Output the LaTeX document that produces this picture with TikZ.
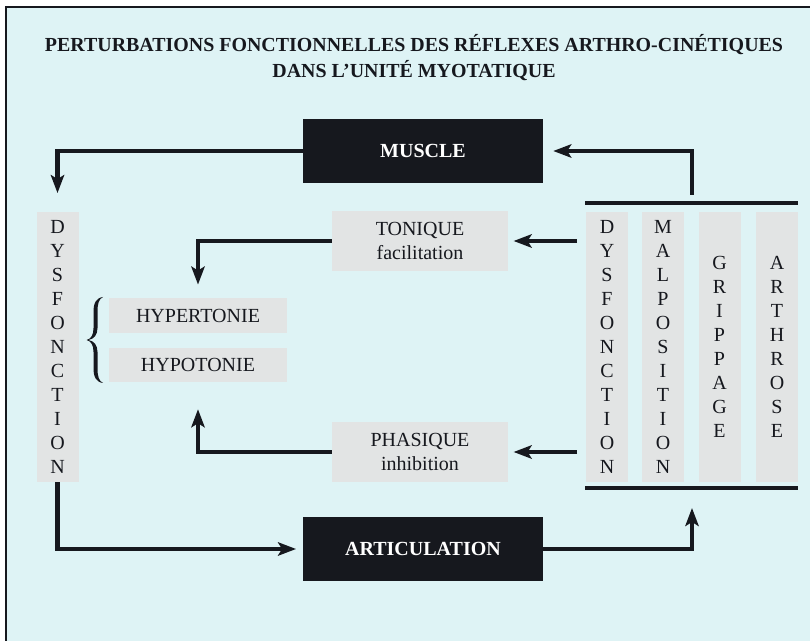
\documentclass[tikz,border=0pt]{standalone}
\usepackage{fontspec}
\setmainfont{Liberation Serif}
\usetikzlibrary{arrows.meta,calc}
\definecolor{bgc}{RGB}{222,243,245}
\definecolor{boxg}{RGB}{226,228,228}
\definecolor{ink}{RGB}{22,24,30}
\begin{document}
\begin{tikzpicture}[x=0.75pt,y=-0.75pt,
  titletext/.style={font=\bfseries\fontsize{14.95}{17}\selectfont, text=ink, anchor=base, inner sep=0},
  blackbox/.style={fill=ink, text=white, font=\bfseries\fontsize{15}{17}\selectfont,
    minimum width=180pt, minimum height=48pt, inner sep=0},
  greybox/.style={fill=boxg, text=ink, font=\fontsize{15}{18}\selectfont, align=center,
    minimum width=132pt, minimum height=45pt, inner sep=0},
  tonebox/.style={fill=boxg, text=ink, font=\fontsize{15}{18}\selectfont,
    minimum width=133.5pt, minimum height=26pt, inner sep=0},
  vcol/.style={fill=boxg, text=ink, font=\fontsize{15}{18}\selectfont, align=center,
    minimum width=31.5pt, minimum height=202.5pt, inner sep=0},
  conn/.style={draw=ink, line width=3.2pt, -{Stealth[length=13.5pt,width=10pt,inset=3pt]}},
  blockline/.style={draw=ink, line width=2.6pt}]
\useasboundingbox (0,0) rectangle (810,641);
\fill[white] (0,0) rectangle (810,641);
\fill[bgc] (6,7) rectangle (810,641);
\draw[line width=1.5pt, ink] (6,641) -- (6,7) -- (810,7);

% title
\node[titletext] (title1) at (414,52) {PERTURBATIONS FONCTIONNELLES DES RÉFLEXES ARTHRO-CINÉTIQUES};
\node[titletext] (title2) at (414,78) {DANS L’UNITÉ MYOTATIQUE};

% main boxes
\node[blackbox] (muscle) at (423,151) {MUSCLE};
\node[blackbox] (artic) at (423,549) {ARTICULATION};

\node[greybox] (ton) at (420,241) {TONIQUE\\facilitation};
\node[greybox] (pha) at (420,452) {PHASIQUE\\inhibition};

\node[tonebox] (hyper) at (198,315.5) {HYPERTONIE};
\node[tonebox] (hypo) at (198,365) {HYPOTONIE};

% columns
\node[vcol] (dysL) at (57.5,347) {D\\Y\\S\\F\\O\\N\\C\\T\\I\\O\\N};
\node[vcol] (dysR) at (607,347) {D\\Y\\S\\F\\O\\N\\C\\T\\I\\O\\N};
\node[vcol] (mal) at (663,347) {M\\A\\L\\P\\O\\S\\I\\T\\I\\O\\N};
\node[vcol] (grip) at (719.5,347) {G\\R\\I\\P\\P\\A\\G\\E};
\node[vcol] (arth) at (777,347) {A\\R\\T\\H\\R\\O\\S\\E};

% block lines
\coordinate (blkTL) at (585,203);
\coordinate (blkTR) at (798,203);
\coordinate (blkBL) at (585,488);
\coordinate (blkBR) at (798,488);
\draw[blockline] (blkTL) -- (blkTR);
\draw[blockline] (blkBL) -- (blkBR);
\coordinate (blkTop) at (692,203);
\coordinate (blkBot) at (692,488);
\coordinate (tonSrc) at (577,241);
\coordinate (phaSrc) at (577,452);

% brace (filled typographic shape)
\fill[ink] (103,297) .. controls (96,298) and (93.5,303) .. (93.5,312)
  -- (93.5,328) .. controls (93.5,335) and (91,339) .. (86.5,340)
  .. controls (91,341) and (93.5,345) .. (93.5,352)
  -- (93.5,368) .. controls (93.5,377) and (96,382) .. (103,383)
  .. controls (99,381) and (97.5,377) .. (97.5,368)
  -- (97.5,352) .. controls (97.5,345) and (94,341) .. (88.5,340)
  .. controls (94,339) and (97.5,335) .. (97.5,328)
  -- (97.5,312) .. controls (97.5,303) and (99,299) .. (103,297) -- cycle;

% connectors
\draw[conn, shorten >=14pt] (muscle.west) -| (dysL.north);
\draw[conn, shorten <=6pt, shorten >=7.5pt] (blkTop) |- (muscle.east);
\draw[conn, shorten >=5pt] (dysL.south) |- (artic.west);
\draw[conn, shorten >=15pt] (artic.east) -| (blkBot);
\draw[conn, shorten >=4pt] (tonSrc) -- (ton.east);
\draw[conn, shorten >=4pt] (phaSrc) -- (pha.east);
\draw[conn, shorten >=10pt] (ton.west) -| (hyper.north);
\draw[conn, shorten >=20pt] (pha.west) -| (hypo.south);
\end{tikzpicture}
\end{document}
